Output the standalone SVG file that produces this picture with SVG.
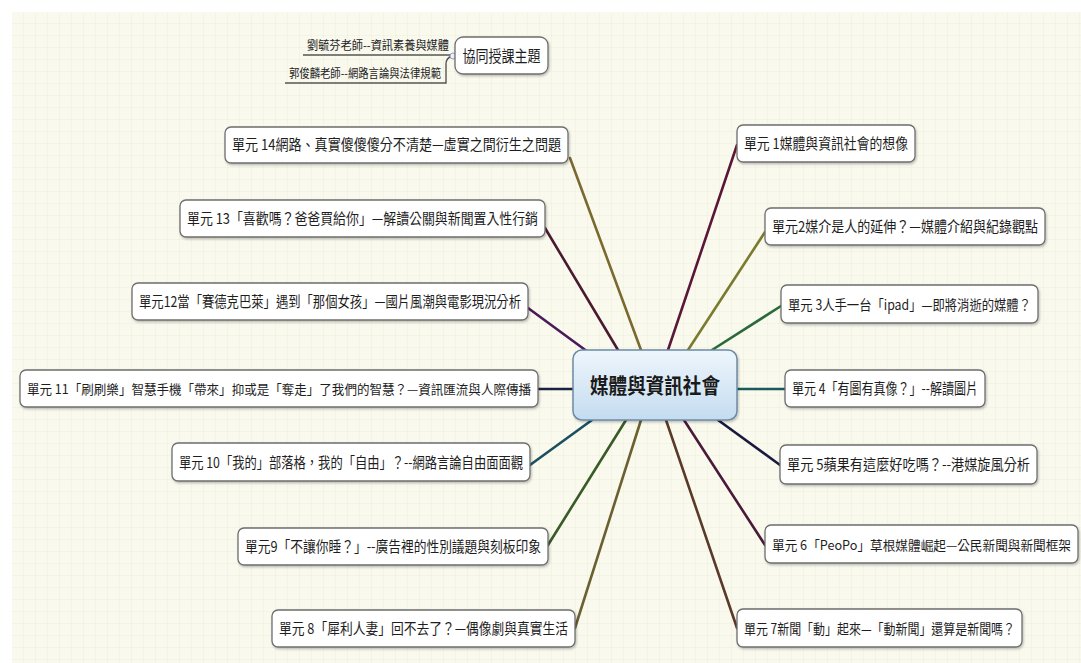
<svg xmlns="http://www.w3.org/2000/svg" width="1081" height="663" viewBox="0 0 1081 663">
<defs>
<pattern id="grid" width="12" height="12" patternUnits="userSpaceOnUse">
<path d="M12 0V12M0 12H12" fill="none" stroke="#eeeedd" stroke-width="1"/>
</pattern>
<linearGradient id="cg" x1="0" y1="0" x2="0" y2="1">
<stop offset="0" stop-color="#eef6fc"/>
<stop offset="1" stop-color="#c4dcf0"/>
</linearGradient>
<filter id="sh" x="-10%" y="-20%" width="120%" height="150%">
<feDropShadow dx="1" dy="1.5" stdDeviation="1" flood-color="#000" flood-opacity="0.25"/>
</filter>
</defs>
<style>
.n rect{fill:#fff;stroke:#6e6e6e;stroke-width:1.3;filter:url(#sh)}
.n text{font-family:"Noto Sans CJK TC","Noto Sans CJK SC",sans-serif;font-size:15px;fill:#1e1e1e;text-anchor:middle}
.c line{stroke-width:2.6;stroke-linecap:round}
.t{font-family:"Noto Sans CJK TC","Noto Sans CJK SC",sans-serif;font-size:12px;fill:#222}
</style>
<rect width="1081" height="663" fill="#fff"/>
<rect x="12" y="12" width="1069" height="651" fill="#f9f9ee"/>
<rect x="12" y="12" width="1069" height="651" fill="url(#grid)"/>

<g id="connectors" class="c">
<line x1="641" y1="350" x2="570" y2="158" stroke="#7a6a30"/>
<line x1="618" y1="350" x2="545" y2="228" stroke="#4a1a30"/>
<line x1="588" y1="352" x2="528" y2="308" stroke="#4a1a5a"/>
<line x1="573" y1="389" x2="538" y2="389" stroke="#1a2240"/>
<line x1="592" y1="420" x2="530" y2="465" stroke="#1a5060"/>
<line x1="626" y1="420" x2="548" y2="545" stroke="#3a5a28"/>
<line x1="641" y1="420" x2="575" y2="628" stroke="#6a6030"/>
<line x1="668" y1="350" x2="737" y2="145" stroke="#5a1838"/>
<line x1="688" y1="350" x2="765" y2="232" stroke="#7a7a30"/>
<line x1="712" y1="350" x2="781" y2="306" stroke="#2a6a3a"/>
<line x1="737" y1="389" x2="785" y2="389" stroke="#1a5a5a"/>
<line x1="718" y1="420" x2="780" y2="465" stroke="#1a1a40"/>
<line x1="684" y1="420" x2="765" y2="545" stroke="#4a1a38"/>
<line x1="666" y1="420" x2="737" y2="628" stroke="#5a3a28"/>
<path d="M303 55H452M452 56Q446 58 446 64V83H285" fill="none" stroke="#555" stroke-width="1.4"/>
<circle cx="453" cy="56" r="3" fill="#eef" stroke="#88a" stroke-width="0.8"/>
</g>

<g id="teachers">
<text class="t" x="378" y="50" text-anchor="middle" textLength="142" lengthAdjust="spacingAndGlyphs">劉毓芬老師--資訊素養與媒體</text>
<text class="t" x="365" y="78" text-anchor="middle" textLength="152" lengthAdjust="spacingAndGlyphs">郭俊麟老師--網路言論與法律規範</text>
</g>

<g id="topic" class="n">
<rect x="455" y="37" width="93" height="37" rx="8"/>
<text x="501.5" y="62" style="font-size:16px" textLength="78" lengthAdjust="spacingAndGlyphs">協同授課主題</text>
</g>

<g id="center">
<rect x="573" y="350" width="164" height="70" rx="9" fill="url(#cg)" stroke="#6d8aa6" stroke-width="1.5" filter="url(#sh)"/>
<text x="655" y="393" font-family="Noto Sans CJK TC, Noto Sans CJK SC, sans-serif" font-size="21" font-weight="bold" fill="#1a1a1a" text-anchor="middle" textLength="130" lengthAdjust="spacingAndGlyphs">媒體與資訊社會</text>
</g>

<g id="u14" class="n"><rect x="225" y="127" width="343" height="36" rx="6"/><text x="396.5" y="150" textLength="329" lengthAdjust="spacingAndGlyphs">單元 14網路、真實傻傻傻分不清楚—虛實之間衍生之問題</text></g>
<g id="u13" class="n"><rect x="180" y="200" width="365" height="37" rx="6"/><text x="362.5" y="224" textLength="351" lengthAdjust="spacingAndGlyphs">單元 13「喜歡嗎？爸爸買給你」—解讀公關與新聞置入性行銷</text></g>
<g id="u12" class="n"><rect x="132" y="283" width="396" height="37" rx="6"/><text x="330" y="307" textLength="382" lengthAdjust="spacingAndGlyphs">單元12當「賽德克巴萊」遇到「那個女孩」—國片風潮與電影現況分析</text></g>
<g id="u11" class="n"><rect x="20" y="370" width="518" height="37" rx="6"/><text x="279" y="394" style="font-size:13px" textLength="504" lengthAdjust="spacingAndGlyphs">單元 11「刷刷樂」智慧手機「帶來」抑或是「奪走」了我們的智慧？—資訊匯流與人際傳播</text></g>
<g id="u10" class="n"><rect x="172" y="443" width="358" height="38" rx="6"/><text x="351" y="468" textLength="344" lengthAdjust="spacingAndGlyphs">單元 10「我的」部落格，我的「自由」？--網路言論自由面面觀</text></g>
<g id="u9" class="n"><rect x="238" y="528" width="310" height="37" rx="6"/><text x="393" y="552" textLength="296" lengthAdjust="spacingAndGlyphs">單元9「不讓你睡？」--廣告裡的性別議題與刻板印象</text></g>
<g id="u8" class="n"><rect x="272" y="610" width="303" height="37" rx="6"/><text x="423.5" y="634" textLength="289" lengthAdjust="spacingAndGlyphs">單元 8「犀利人妻」回不去了？—偶像劇與真實生活</text></g>

<g id="u1" class="n"><rect x="737" y="125" width="178" height="37" rx="6"/><text x="826" y="149" textLength="164" lengthAdjust="spacingAndGlyphs">單元 1媒體與資訊社會的想像</text></g>
<g id="u2" class="n"><rect x="765" y="208" width="280" height="37" rx="6"/><text x="905" y="232" textLength="266" lengthAdjust="spacingAndGlyphs">單元2媒介是人的延伸？—媒體介紹與紀錄觀點</text></g>
<g id="u3" class="n"><rect x="781" y="285" width="257" height="38" rx="6"/><text x="909.5" y="310" style="font-size:14px" textLength="243" lengthAdjust="spacingAndGlyphs">單元 3人手一台「ipad」—即將消逝的媒體？</text></g>
<g id="u4" class="n"><rect x="785" y="370" width="200" height="37" rx="6"/><text x="885" y="394" textLength="186" lengthAdjust="spacingAndGlyphs">單元 4「有圖有真像？」--解讀圖片</text></g>
<g id="u5" class="n"><rect x="780" y="445" width="257" height="39" rx="6"/><text x="908.5" y="470" textLength="243" lengthAdjust="spacingAndGlyphs">單元 5蘋果有這麼好吃嗎？--港媒旋風分析</text></g>
<g id="u6" class="n"><rect x="765" y="525" width="313" height="38" rx="6"/><text x="921.5" y="550" style="font-size:13px" textLength="299" lengthAdjust="spacingAndGlyphs">單元 6「PeoPo」草根媒體崛起—公民新聞與新聞框架</text></g>
<g id="u7" class="n"><rect x="737" y="609" width="285" height="38" rx="6"/><text x="879.5" y="634" style="font-size:14px" textLength="271" lengthAdjust="spacingAndGlyphs">單元 7新聞「動」起來—「動新聞」還算是新聞嗎？</text></g>
</svg>
